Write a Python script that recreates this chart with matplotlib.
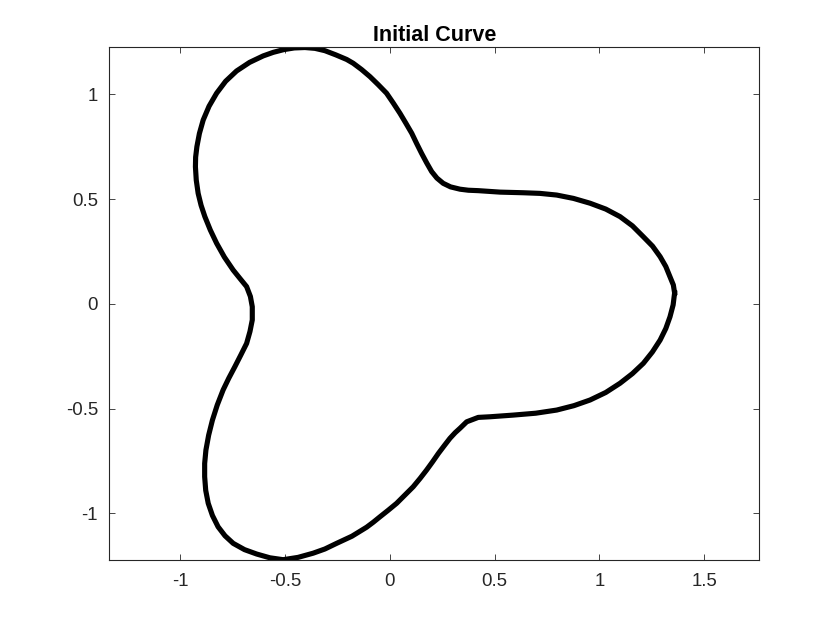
import numpy as np
import matplotlib
matplotlib.use("Agg")
import matplotlib.pyplot as plt

plt.rcParams['font.family'] = ['Liberation Sans', 'DejaVu Sans']
plt.rcParams['axes.unicode_minus'] = False

# Points (counter-clockwise, starting at the right lobe)
curve_x = [1.358, 1.352, 1.336, 1.316, 1.289, 1.253, 1.209, 1.157, 1.098, 1.030,
           0.955, 0.876, 0.796, 0.716, 0.637, 0.526, 0.422, 0.375, 0.335, 0.290,
           0.255, 0.225, 0.200, 0.176, 0.152, 0.128, 0.105, 0.077, 0.049, 0.017,
           -0.015, -0.055, -0.094, -0.134, -0.174, -0.205, -0.257, -0.309, -0.356, -0.404,
           -0.455, -0.505, -0.555, -0.603, -0.668, -0.730, -0.782, -0.825, -0.861, -0.889,
           -0.907, -0.919, -0.925, -0.926, -0.922, -0.913, -0.899, -0.881, -0.855, -0.825,
           -0.788, -0.746, -0.713, -0.682, -0.664, -0.655, -0.655, -0.666, -0.682, -0.710,
           -0.738, -0.767, -0.794, -0.822, -0.845, -0.863, -0.876, -0.882, -0.882, -0.877,
           -0.865, -0.845, -0.818, -0.785, -0.746, -0.692, -0.634, -0.571, -0.508, -0.437,
           -0.365, -0.309, -0.253, -0.180, -0.110, -0.078, -0.046, -0.007, 0.033, 0.072,
           0.112, 0.145, 0.176, 0.205, 0.232, 0.260, 0.287, 0.312, 0.335, 0.367,
           0.422, 0.478, 0.589, 0.696, 0.796, 0.878, 0.955, 1.030, 1.098, 1.157,
           1.209, 1.252, 1.289, 1.316, 1.336, 1.351]
curve_y = [0.052, 0.090, 0.129, 0.178, 0.225, 0.275, 0.320, 0.372, 0.416, 0.452,
           0.480, 0.503, 0.519, 0.527, 0.530, 0.533, 0.540, 0.542, 0.547, 0.558,
           0.575, 0.600, 0.631, 0.673, 0.718, 0.766, 0.814, 0.862, 0.909, 0.958,
           1.005, 1.046, 1.084, 1.118, 1.148, 1.166, 1.188, 1.208, 1.219, 1.223,
           1.221, 1.213, 1.200, 1.183, 1.152, 1.111, 1.062, 1.005, 0.943, 0.877,
           0.813, 0.750, 0.700, 0.654, 0.590, 0.527, 0.470, 0.416, 0.352, 0.289,
           0.223, 0.161, 0.120, 0.082, 0.035, -0.014, -0.077, -0.132, -0.189, -0.245,
           -0.300, -0.355, -0.411, -0.483, -0.555, -0.627, -0.698, -0.762, -0.825, -0.890,
           -0.952, -1.010, -1.064, -1.107, -1.143, -1.173, -1.194, -1.212, -1.221, -1.210,
           -1.190, -1.170, -1.143, -1.109, -1.066, -1.042, -1.016, -0.985, -0.952, -0.913,
           -0.873, -0.833, -0.793, -0.753, -0.714, -0.677, -0.642, -0.615, -0.594, -0.563,
           -0.542, -0.539, -0.531, -0.522, -0.507, -0.486, -0.459, -0.423, -0.379, -0.333,
           -0.284, -0.230, -0.173, -0.118, -0.062, -0.005]

x_ticks = [-1, -0.5, 0, 0.5, 1, 1.5]
x_tick_labels = ['-1', '-0.5', '0', '0.5', '1', '1.5']
y_ticks = [-1, -0.5, 0, 0.5, 1]
y_tick_labels = ['-1', '-0.5', '0', '0.5', '1']

fig = plt.figure(figsize=(8.4, 6.3), dpi=100)
ax = fig.add_axes([0.13, 0.1106, 0.774, 0.8143])

# close the loop
xs = curve_x + curve_x[:1]
ys = curve_y + curve_y[:1]
ax.plot(xs, ys, color='black', linewidth=3.7, solid_joinstyle='round')

ax.set_xlim(-1.337, 1.762)
ax.set_ylim(-1.224, 1.224)
ax.set_xticks(x_ticks)
ax.set_xticklabels(x_tick_labels)
ax.set_yticks(y_ticks)
ax.set_yticklabels(y_tick_labels)

ax.tick_params(direction='in', length=4.5, width=0.6, colors='#262626',
               labelsize=13.4, top=True, right=True)
ax.tick_params(axis='x', pad=9)
ax.tick_params(axis='y', pad=8)
for s in ax.spines.values():
    s.set_color('#262626')
    s.set_linewidth(0.8)

ax.set_title('Initial Curve', fontsize=15.5, fontweight='bold', color='black', pad=4.5)

fig.savefig('out.png', dpi=100)
